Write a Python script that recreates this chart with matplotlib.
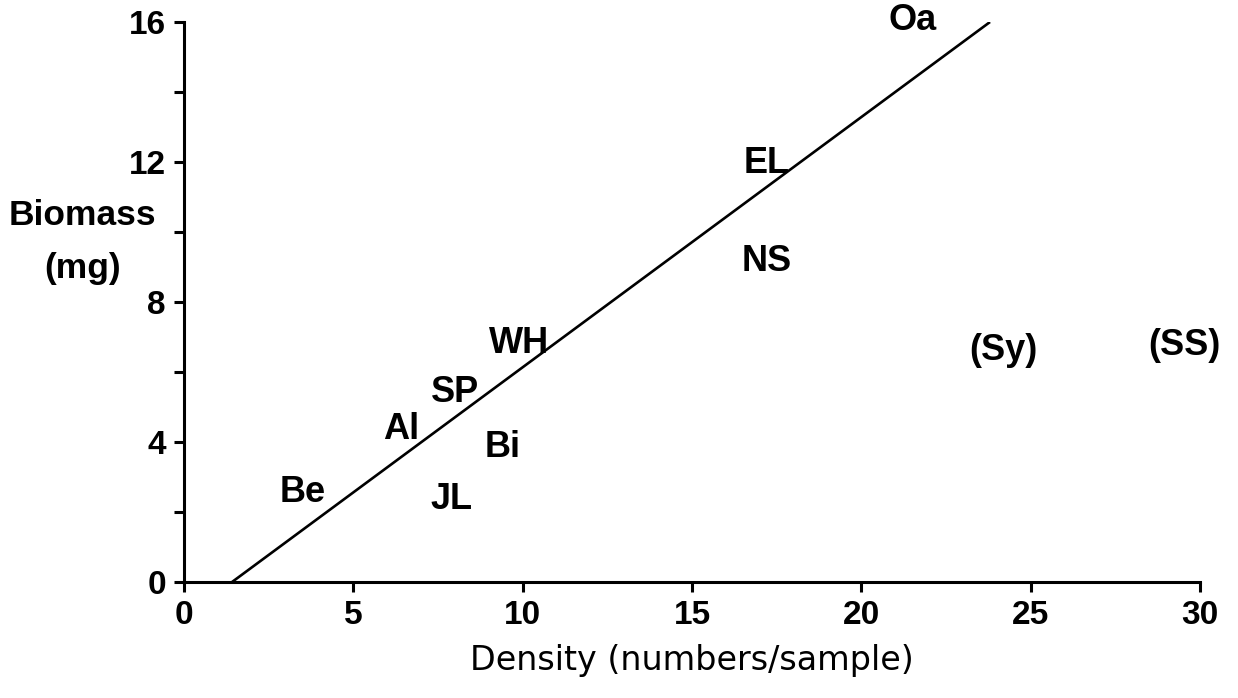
import numpy as np
import matplotlib.pyplot as plt

# site labels and where they sit (density, biomass)
sites = ["Oa", "EL", "NS", "WH", "SP", "Al", "Bi", "Be", "JL", "(Sy)", "(SS)"]
density = [21.5, 17.2, 17.2, 9.9, 8.0, 6.4, 9.4, 3.5, 7.9, 24.2, 29.55]
biomass = [16.05, 11.95, 9.15, 6.8, 5.4, 4.35, 3.85, 2.55, 2.35, 6.6, 6.75]

# regression line end points
line_x = [1.42, 23.8]
line_y = [0, 16]

plt.rcParams['font.family'] = ['Liberation Sans', 'DejaVu Sans']

fig = plt.figure(figsize=(12.38, 6.98), dpi=100)
ax = fig.add_axes([0.1486, 0.1662, 0.8207, 0.8023])

ax.plot(line_x, line_y, color='black', lw=1.9, solid_capstyle='butt')

for s, x, y in zip(sites, density, biomass):
    ax.text(x, y, s, ha='center', va='center', fontsize=26, fontweight='bold', clip_on=False)

ax.set_xlim(0, 30)
ax.set_ylim(0, 16)
ax.set_xticks([0, 5, 10, 15, 20, 25, 30])
ax.set_yticks([0, 4, 8, 12, 16])
ax.set_yticks([2, 6, 10, 14], minor=True)

ax.spines['top'].set_visible(False)
ax.spines['right'].set_visible(False)
ax.spines['left'].set_linewidth(2.2)
ax.spines['bottom'].set_linewidth(2.2)

ax.tick_params(axis='both', which='both', direction='out', length=7, width=2.2, pad=6)
ax.tick_params(axis='y', pad=6)
for lab in ax.get_xticklabels() + ax.get_yticklabels():
    lab.set_fontsize(24)
    lab.set_fontweight('bold')

ax.set_xlabel("Density (numbers/sample)", fontsize=24, family='DejaVu Sans', labelpad=9)
ax.set_ylabel("Biomass\n(mg)", fontsize=25.5, fontweight='bold', rotation=0,
              ha='center', va='center', linespacing=1.8)
ax.yaxis.set_label_coords(-0.1, 0.607)

fig.savefig("out.png", dpi=100)
